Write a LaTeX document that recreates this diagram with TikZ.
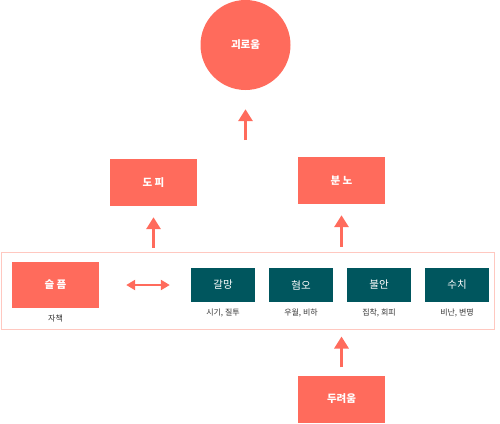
\documentclass[tikz,border=0pt]{standalone}
\usepackage{fontspec}
\setmainfont{Noto Sans CJK KR}
\usetikzlibrary{arrows.meta, positioning, calc}
\usepackage{xcolor}
\definecolor{coral}{HTML}{FF6B5C}
\definecolor{deepteal}{HTML}{00565E}
\definecolor{framepink}{HTML}{FFC8C0}
\definecolor{subgray}{HTML}{333333}
\tikzset{
    emotion/.style = {rectangle, minimum width=87pt, minimum height=47pt, inner sep=0pt, align=center, fill=coral, text=white, font=\fontsize{10.5}{12}\selectfont\bfseries},
    secondary/.style = {rectangle, minimum width=64pt, minimum height=34pt, inner sep=0pt, align=center, fill=deepteal, text=white, font=\fontsize{10.5}{12}\selectfont},
    sublabel/.style = {text=subgray, inner sep=0pt, font=\fontsize{8}{10}\selectfont},
    uparrow/.style = {draw=coral, line width=3pt, -{Triangle[width=14pt,length=12pt]}},
    bothways/.style = {draw=coral, line width=2.7pt, {Triangle[width=10pt,length=9pt]}-{Triangle[width=10pt,length=9pt]}}
}
\begin{document}
\begin{tikzpicture}[x=1pt, y=-1pt]
\useasboundingbox (0,0) rectangle (500,423);

\node[circle, fill=coral, minimum size=90pt, inner sep=0pt, text=white, font=\fontsize{10.5}{12}\selectfont\bfseries] (pain) at (245.5,45) {괴로움};

\node[emotion] (avoid) at (153.5,182.5) {도 피};
\node[emotion] (anger) at (341.5,180.5) {분 노};

\node[draw=framepink, line width=1pt, minimum width=493pt, minimum height=77pt, inner sep=0pt] (frame) at (247.5,290.5) {};

\node[emotion, minimum height=46pt] (sad) at (55.5,285) {슬 픔};
\node[sublabel] (sadsub) at (55.5,318) {자책};

\node[secondary] (craving) at (223,285) {갈망};
\node[secondary] (disgust) at (301,285) {혐오};
\node[secondary] (anxiety) at (379,285) {불안};
\node[secondary] (shame) at (457,285) {수치};

\node[sublabel] (cravingsub) at (223,313) {시기, 질투};
\node[sublabel] (disgustsub) at (301,313) {우월, 비하};
\node[sublabel] (anxietysub) at (379,313) {집착, 회피};
\node[sublabel] (shamesub) at (457,313) {비난, 변명};

\node[emotion] (fear) at (341.5,399) {두려움};

% arrows
\coordinate (merge) at (245.5,140);
\draw[uparrow, shorten >=19pt] (merge) -- (pain);
\draw[uparrow, shorten <=4pt, shorten >=11pt] (avoid.south |- frame.north) -- (avoid.south);
\draw[uparrow, shorten <=5pt, shorten >=11pt] (anger.south |- frame.north) -- (anger.south);
\draw[uparrow, shorten <=8pt, shorten >=7pt] (fear.north) -- (fear.north |- frame.south);
\draw[bothways, shorten <=27pt, shorten >=21pt] (sad.east) -- (craving.west);

\end{tikzpicture}
\end{document}
